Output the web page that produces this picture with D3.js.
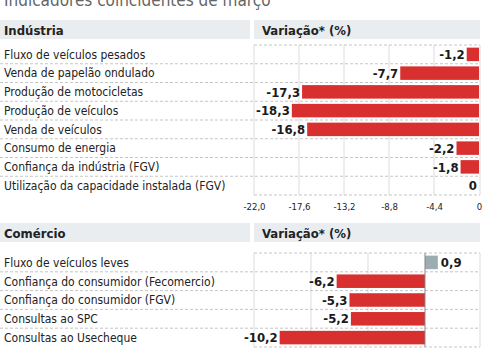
<!DOCTYPE html>
<html>
<head>
<meta charset="utf-8">
<script src="https://cdn.jsdelivr.net/npm/d3@7"></script>
<style>
  body { margin: 0; background: #fff; }
  svg { display: block; font-family: "DejaVu Sans Condensed", "Liberation Sans Narrow", sans-serif; }
</style>
</head>
<body>
<svg id="chart" width="484" height="350"></svg>
<script>
let title_text = 'Indicadores coincidentes de março';

let industria_labels = ['Fluxo de veículos pesados', 'Venda de papelão ondulado', 'Produção de motocicletas',
  'Produção de veículos', 'Venda de veículos', 'Consumo de energia', 'Confiança da indústria (FGV)',
  'Utilização da capacidade instalada (FGV)'];
let industria_values = [-1.2, -7.7, -17.3, -18.3, -16.8, -2.2, -1.8, 0];
let industria_ticks = [-22, -17.6, -13.2, -8.8, -4.4, 0];

let comercio_labels = ['Fluxo de veículos leves', 'Confiança do consumidor (Fecomercio)',
  'Confiança do consumidor (FGV)', 'Consultas ao SPC', 'Consultas ao Usecheque'];
let comercio_values = [0.9, -6.2, -5.3, -5.2, -10.2];
let comercio_grid = [-12, -8, -4];

let red = '#d8302f';
let gray_bar = '#9badb2';
let band_color = '#e9edef';
let grid_color = '#dcdcdc';
let dash_color = '#b8b8b8';

let plot_left = 254, plot_right = 480;
let fmt = v => v === 0 ? '0' : d3.format('.1f')(v).replace('.', ',').replace('−', '-');

let svg = d3.select('#chart');

// title, cut at the top like the original
svg.append('text')
  .attr('x', 4)
  .attr('y', 6)
  .style('font-size', '17px')
  .style('fill', '#666')
  .text(title_text);

function header(y, name) {
  svg.append('rect').attr('x', 0).attr('y', y).attr('width', 250).attr('height', 19).attr('fill', band_color);
  svg.append('rect').attr('x', plot_left).attr('y', y).attr('width', plot_right - plot_left).attr('height', 19).attr('fill', band_color);
  svg.append('text').attr('x', 4).attr('y', y + 14.5)
    .style('font-size', '13px').style('font-weight', 'bold').style('fill', '#222')
    .text(name);
  svg.append('text').attr('x', 262).attr('y', y + 14.5)
    .style('font-size', '13px').style('font-weight', 'bold').style('fill', '#222')
    .text('Variação* (%)');
}

function panel(labels, values, x, y, grid, zero_line) {
  let g = svg.append('g');

  // vertical grid
  g.selectAll('.vgrid')
    .data(grid)
    .enter().append('line')
    .attr('x1', d => x(d)).attr('x2', d => x(d))
    .attr('y1', y.range()[0]).attr('y2', y.range()[1])
    .attr('stroke', grid_color).attr('stroke-width', 1);
  g.append('line')
    .attr('x1', plot_right).attr('x2', plot_right)
    .attr('y1', y.range()[0]).attr('y2', y.range()[1])
    .attr('stroke', grid_color);

  // dashed row separators
  let step = y.step();
  let seps = d3.range(1, labels.length).map(i => y.range()[0] + i * step);
  g.selectAll('.sep')
    .data(seps)
    .enter().append('line')
    .attr('x1', 0).attr('x2', plot_right)
    .attr('y1', d => d).attr('y2', d => d)
    .attr('stroke', dash_color).attr('stroke-dasharray', '3,2').attr('stroke-width', 0.8);
  g.selectAll('.edge')
    .data(y.range())
    .enter().append('line')
    .attr('x1', plot_left).attr('x2', plot_right)
    .attr('y1', d => d).attr('y2', d => d)
    .attr('stroke', dash_color).attr('stroke-dasharray', '3,2').attr('stroke-width', 0.8);

  // labels
  g.selectAll('.lab')
    .data(labels)
    .enter().append('text')
    .attr('x', 4)
    .attr('y', d => y(d) + y.bandwidth() / 2)
    .attr('dy', '0.36em')
    .style('font-size', '12px')
    .style('fill', '#222')
    .text(d => d);

  // bars
  g.selectAll('.bar')
    .data(values)
    .enter().append('rect')
    .attr('x', d => x(Math.min(0, d)))
    .attr('y', (d, i) => y(labels[i]))
    .attr('width', d => Math.abs(x(d) - x(0)))
    .attr('height', y.bandwidth())
    .attr('fill', d => d > 0 ? gray_bar : red);

  if (zero_line) {
    g.append('line')
      .attr('x1', x(0)).attr('x2', x(0))
      .attr('y1', y.range()[0]).attr('y2', y.range()[1])
      .attr('stroke', '#888').attr('stroke-width', 1);
  }

  // values
  g.selectAll('.val')
    .data(values)
    .enter().append('text')
    .attr('x', d => d > 0 ? x(d) + 3 : x(d) - 2)
    .attr('y', (d, i) => y(labels[i]) + y.bandwidth() / 2)
    .attr('dy', '0.36em')
    .attr('text-anchor', d => d > 0 ? 'start' : 'end')
    .style('font-size', '13px')
    .style('font-weight', 'bold')
    .style('fill', '#1a1a1a')
    .text(d => fmt(d));
}

// Indústria
header(20, 'Indústria');
let ind_x = d3.scaleLinear().domain([-22, 0]).range([plot_left, 479]);
let ind_y = d3.scaleBand().domain(industria_labels).range([45, 195]).paddingInner(0.28).paddingOuter(0.14);
panel(industria_labels, industria_values, ind_x, ind_y, industria_ticks.slice(0, -1), false);

let ind_axis = d3.axisBottom(ind_x)
  .tickValues(industria_ticks)
  .tickSize(0)
  .tickFormat(fmt);
svg.append('g')
  .attr('transform', 'translate(0, 200)')
  .call(ind_axis)
  .call(g => g.select('.domain').remove())
  .selectAll('text')
  .style('font-size', '9.5px')
  .style('fill', '#222')
  .style('font-family', '"DejaVu Sans Condensed", sans-serif');

// Comércio
header(223, 'Comércio');
let com_x = d3.scaleLinear().domain([-12, 3.86]).range([plot_left, plot_right]);
let com_y = d3.scaleBand().domain(comercio_labels).range([253, 347]).paddingInner(0.28).paddingOuter(0.14);
panel(comercio_labels, comercio_values, com_x, com_y, comercio_grid, true);
</script>
</body>
</html>
